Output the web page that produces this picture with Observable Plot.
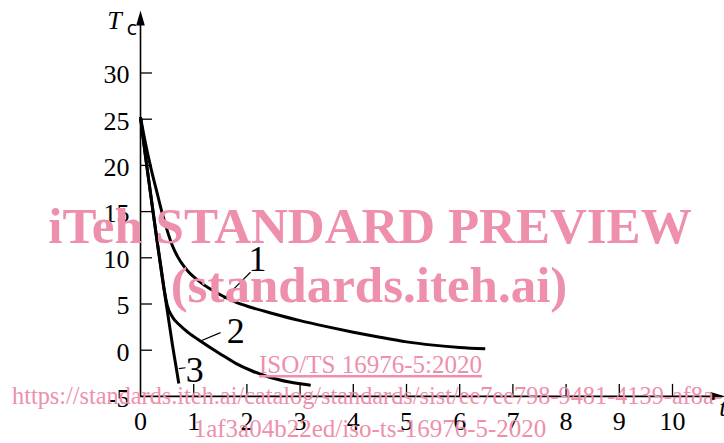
<!DOCTYPE html>
<html>
<head>
<meta charset="utf-8">
<script src="https://cdn.jsdelivr.net/npm/d3@7"></script>
<script src="https://cdn.jsdelivr.net/npm/@observablehq/plot@0.6"></script>
<style>
html, body { margin: 0; padding: 0; background: #fff; }
#chart { position: relative; width: 724px; height: 443px; overflow: hidden; }
</style>
</head>
<body>
<div id="chart"></div>
<script>
// ---- data ----
const curve1X = [0, 0.1, 0.2, 0.3, 0.4, 0.5, 0.6, 0.7, 0.8, 0.9, 1.0, 1.16, 1.5, 1.79, 2.07, 2.5, 3.0, 3.5, 4.0, 4.5, 5.0, 5.5, 6.0, 6.48];
const curve1Y = [25.2, 22.2, 19.6, 17.3, 15.0, 13.0, 11.3, 10.1, 9.2, 8.5, 7.95, 7.2, 6.0, 5.2, 4.65, 3.95, 3.2, 2.55, 1.95, 1.4, 0.9, 0.55, 0.3, 0.15];

const curve2X = [0, 0.1, 0.2, 0.3, 0.4, 0.45, 0.5, 0.6, 0.72, 0.9, 1.16, 1.5, 1.79, 2.1, 2.41, 2.8, 3.2];
const curve2Y = [25.2, 20.7, 16.5, 12.3, 8.4, 6.4, 4.9, 3.6, 2.8, 1.9, 0.87, -0.4, -1.42, -2.25, -2.9, -3.45, -3.8];

const curve3X = [0, 0.1, 0.2, 0.3, 0.4, 0.45, 0.5, 0.55, 0.6, 0.66, 0.72];
const curve3Y = [25.2, 20.7, 16.5, 12.3, 8.2, 6.3, 4.4, 2.5, 0.6, -1.5, -3.6];

const curveNames = ["1", "2", "3"];
const labelX = [2.2, 1.79, 1.02];
const labelY = [9.8, 2.0, -2.2];
const leaderX1 = [1.566, 1.128, 0.72];
const leaderY1 = [5.56, 1.0, -2.0];
const leaderX2 = [2.068, 1.504, 0.846];
const leaderY2 = [8.44, 1.9, -1.9];

const xTickValues = [0, 1, 2, 3, 4, 5, 6, 7, 8, 9, 10];
const yTickValues = [-5, 0, 5, 10, 15, 20, 25, 30];
const yAxisTitle = "T";
const yAxisTitleSub = "c";
const xAxisTitle = "t";

const watermarkLines = [
  "iTeh STANDARD PREVIEW",
  "(standards.iteh.ai)",
  "ISO/TS 16976-5:2020",
  "https://standards.iteh.ai/catalog/standards/sist/ee7ee798-9481-4139-af8a-",
  "1af3a04b22ed/iso-ts-16976-5-2020"
];

// ---- build table ----
const rows = [];
[[curve1X, curve1Y], [curve2X, curve2Y], [curve3X, curve3Y]].forEach(([xs, ys], i) => {
  xs.forEach((x, j) => rows.push({x, y: ys[j], curve: curveNames[i]}));
});
const labels = curveNames.map((t, i) => ({t, x: labelX[i], y: labelY[i]}));
const leaders = curveNames.map((t, i) => ({x1: leaderX1[i], y1: leaderY1[i], x2: leaderX2[i], y2: leaderY2[i]}));

const W = 724, H = 443;
const FONT = "Liberation Serif, Times New Roman, serif";
const arrowHead = {draw(ctx) { ctx.moveTo(0, 0); ctx.lineTo(4.3, 15); ctx.lineTo(-4.3, 15); ctx.closePath(); }};

const plot = Plot.plot({
  width: W,
  height: H,
  marginLeft: 140,
  marginRight: 0,
  marginTop: 0,
  marginBottom: 47.1,
  style: {fontFamily: FONT, fontSize: "26px", background: "white", color: "black", overflow: "visible"},
  x: {domain: [0, 10], range: [140, 672]},
  y: {domain: [-5, 30], range: [395.9, 72.5]},
  marks: [
    // axis lines
    Plot.ruleX([0], {y1: -5, y2: 36.0, stroke: "black", strokeWidth: 1.6}),
    Plot.ruleY([-5], {x1: 0, x2: 10.8, stroke: "black", strokeWidth: 1.6}),
    Plot.dot([{x: 0, y: 36.76}], {x: "x", y: "y", symbol: arrowHead, fill: "black", stroke: "none", r: 5}),
    Plot.dot([{x: 10.996, y: -5}], {x: "x", y: "y", symbol: arrowHead, fill: "black", stroke: "none", r: 5, rotate: 90}),
    // inward ticks
    Plot.tickY(yTickValues.filter(d => d > -5), {y: d => d, stroke: "black", strokeWidth: 1.3, insetRight: W - 152}),
    Plot.tickX(xTickValues.filter(d => d > 0), {x: d => d, stroke: "black", strokeWidth: 1.3, insetTop: 395.9 - 12}),
    // tick labels
    Plot.axisY({ticks: yTickValues, tickSize: 0, tickPadding: 11, tickFormat: d => String(d), fontSize: 26, fontFamily: FONT, dy: 2}),
    Plot.axisX({ticks: xTickValues, tickSize: 0, tickPadding: 15, tickFormat: d => String(d), fontSize: 26, fontFamily: FONT}),
    // axis titles
    Plot.text([yAxisTitle], {x: -0.489, y: 35.71, text: d => d, fontSize: 26, fontStyle: "italic", textAnchor: "middle", fontFamily: FONT}),
    Plot.text([yAxisTitleSub], {x: -0.16, y: 34.72, text: d => d, fontSize: 19, textAnchor: "middle", fontFamily: "DejaVu Sans, sans-serif"}),
    Plot.text([xAxisTitle], {x: 10.88, y: -6.2, text: d => d, fontSize: 26, fontStyle: "italic", textAnchor: "start", fontFamily: FONT}),
    // curves
    Plot.line(rows, {x: "x", y: "y", z: "curve", stroke: "black", strokeWidth: 3, curve: "monotone-x", strokeLinecap: "butt"}),
    // leaders and labels
    Plot.link(leaders, {x1: "x1", y1: "y1", x2: "x2", y2: "y2", stroke: "black", strokeWidth: 1.2}),
    Plot.text(labels, {x: "x", y: "y", text: "t", fontSize: 36, textAnchor: "middle", fontFamily: FONT})
  ]
});

document.getElementById("chart").appendChild(plot);

// ---- watermark overlay (text) ----
const svg = d3.select(plot);
const wm = svg.append("g")
  .attr("fill", "#ee8fac")
  .attr("font-family", FONT);
const wmSpec = [
  {x: 370, y: 243, size: 51, weight: "bold", anchor: "middle", deco: null},
  {x: 369, y: 302, size: 51, weight: "bold", anchor: "middle", deco: null},
  {x: 370.5, y: 373, size: 25, weight: "normal", anchor: "middle", deco: "underline"},
  {x: 12, y: 404, size: 24.3, weight: "normal", anchor: "start", deco: null},
  {x: 370, y: 437, size: 25, weight: "normal", anchor: "middle", deco: null}
];
watermarkLines.forEach((txt, i) => {
  const s = wmSpec[i];
  const t = wm.append("text")
    .attr("x", s.x).attr("y", s.y)
    .attr("font-size", s.size)
    .attr("font-weight", s.weight)
    .attr("text-anchor", s.anchor)
    .text(txt);
  if (s.deco) t.attr("text-decoration", s.deco);
});
</script>
</body>
</html>
